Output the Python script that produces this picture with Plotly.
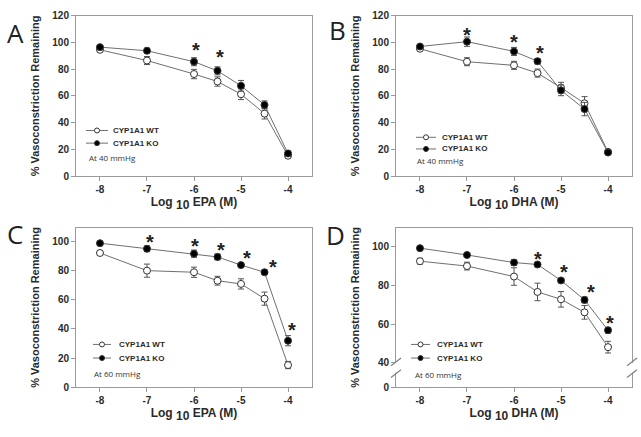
import plotly.graph_objects as go

# ---------------- data ----------------
conc = [-8, -7, -6, -5.5, -5, -4.5, -4]

A_wt = [94.5, 86.5, 76.4, 70.8, 61.3, 46.8, 15.3]
A_wt_err = [1.5, 3, 3.5, 3.5, 4, 4, 2]
A_ko = [96.5, 93.8, 85.6, 78.8, 67.6, 53.3, 17.0]
A_ko_err = [1, 2, 3, 3, 4, 3, 2]
A_star_x = [-5.95, -5.45]
A_star_y = [98, 93]

B_wt = [95.3, 85.6, 82.9, 77.1, 66.2, 54.5, 18.2]
B_wt_err = [1.5, 3, 3, 3, 4, 5, 1.5]
B_ko = [97.0, 100.6, 93.3, 86.0, 64.2, 50.2, 17.7]
B_ko_err = [1, 3.5, 3, 2, 4, 5, 1.5]
B_star_x = [-7.0, -6.0, -5.45]
B_star_y = [109, 104, 96]

C_wt = [92.0, 79.9, 78.8, 73.0, 70.8, 60.7, 15.2]
C_wt_err = [1.5, 4.5, 3.5, 3, 3.5, 4.5, 2.5]
C_ko = [98.7, 94.9, 91.5, 89.3, 83.7, 78.8, 31.9]
C_ko_err = [0.5, 2, 2.5, 2, 1, 1.5, 3.5]
C_star_x = [-6.94, -5.98, -5.42, -4.88, -4.32, -3.91]
C_star_y = [102.7, 100.4, 97.8, 92.0, 86.0, 42.9]

D_wt = [92.3, 89.8, 84.4, 76.5, 72.7, 66.0, 48.1]
D_wt_err = [1.5, 2, 4.5, 4.5, 4, 3.5, 3]
D_ko = [99.0, 95.5, 91.6, 90.6, 82.4, 72.4, 56.8]
D_ko_err = [0.5, 1, 1.5, 1, 1, 1.5, 1.5]
D_star_x = [-5.5, -4.93, -4.37, -3.95]
D_star_y = [95.8, 89.5, 79.1, 63.0]

series_names = ["CYP1A1 WT", "CYP1A1 KO"]
x_ticks = [-8, -7, -6, -5, -4]
y_ticks_AB = [0, 20, 40, 60, 80, 100, 120]
y_ticks_C = [0, 20, 40, 60, 80, 100]
y_ticks_D = [27.5, 40, 60, 80, 100]
y_ticktext_D = ["0", "40", "60", "80", "100"]
drugs = ["EPA", "DHA", "EPA", "DHA"]
pressure_notes = ["At 40 mmHg", "At 40 mmHg", "At 60 mmHg", "At 60 mmHg"]
panel_letters = ["A", "B", "C", "D"]

# ---------------- layout helpers ----------------
W, H = 641, 437
def px(v):
    return v / W
def py(v):
    return 1 - v / H

xdom = [[px(76), px(312)], [px(396), px(632)], [px(76), px(312)], [px(396), px(632)]]
ydom = [[py(175), py(10)], [py(175), py(10)], [py(392), py(228)], [py(392), py(228)]]
yranges = [[0, 120], [0, 120], [0, 109.3], [27.5, 109.5]]

panels = [
    (A_wt, A_wt_err, A_ko, A_ko_err, A_star_x, A_star_y),
    (B_wt, B_wt_err, B_ko, B_ko_err, B_star_x, B_star_y),
    (C_wt, C_wt_err, C_ko, C_ko_err, C_star_x, C_star_y),
    (D_wt, D_wt_err, D_ko, D_ko_err, D_star_x, D_star_y),
]

LINE_C = "#6f6f6f"
AX_C = "#9a9a9a"
TXT_C = "#2a2a2a"
FONT = "Liberation Sans"

# legend geometry (pixels): line x0, x1, text x, row1 y, row2 y, note x, note y
legend_geo = [
    (86, 108, 111, 128, 141, 87, 156),
    (416, 436, 440, 135, 147, 415, 159),
    (93, 111, 117, 348, 362, 92, 378),
    (411, 430, 435, 348, 362, 413, 379),
]
letter_pos = [(15, 28), (337, 25), (15, 234), (335, 235)]

fig = go.Figure()
annotations = []
shapes = []
layout = dict(
    width=W, height=H,
    margin=dict(l=0, r=0, t=0, b=0),
    paper_bgcolor="white", plot_bgcolor="white",
    showlegend=False,
)

for i, (wt, wte, ko, koe, sx, sy) in enumerate(panels):
    n = i + 1
    xa = "x" if n == 1 else f"x{n}"
    ya = "y" if n == 1 else f"y{n}"
    for name, vals, errs, fill in ((series_names[0], wt, wte, "white"),
                                   (series_names[1], ko, koe, "black")):
        fig.add_trace(go.Scatter(
            x=conc, y=vals, name=name, mode="lines+markers",
            xaxis=xa, yaxis=ya,
            line=dict(color=LINE_C, width=1),
            marker=dict(size=7, color=fill, line=dict(color="#333333", width=1)),
            error_y=dict(type="data", array=errs, visible=True,
                         color="#555555", thickness=1, width=3),
        ))
    # significance asterisks
    for xs, ys in zip(sx, sy):
        annotations.append(dict(x=xs, y=ys, xref=xa, yref=ya, text="*",
                                showarrow=False, yshift=-5,
                                font=dict(family=FONT, size=20, color="#222", weight="bold")))
    axkey_x = "xaxis" if n == 1 else f"xaxis{n}"
    axkey_y = "yaxis" if n == 1 else f"yaxis{n}"
    xtitle = ("Log <sub><span style='font-size:12px'>10</span></sub> "
              + drugs[i] + " (M)")
    layout[axkey_x] = dict(
        domain=xdom[i], anchor=ya, range=[-8.51, -3.49],
        tickvals=x_ticks, ticktext=[str(t) for t in x_ticks],
        showline=True, linecolor=AX_C, linewidth=1, mirror=True,
        ticks="outside", ticklen=4, tickcolor=AX_C,
        showgrid=False, zeroline=False,
        tickfont=dict(family=FONT, size=10, color=TXT_C, weight="bold"),
        title=dict(text=xtitle, standoff=3,
                   font=dict(family=FONT, size=12, color=TXT_C, weight="bold")),
    )
    if n in (1, 2):
        yt, ytt = y_ticks_AB, [str(t) for t in y_ticks_AB]
    elif n == 3:
        yt, ytt = y_ticks_C, [str(t) for t in y_ticks_C]
    else:
        yt, ytt = y_ticks_D, y_ticktext_D
    layout[axkey_y] = dict(
        domain=ydom[i], anchor=xa, range=yranges[i],
        tickvals=yt, ticktext=ytt,
        showline=True, linecolor=AX_C, linewidth=1, mirror=True,
        ticks="outside", ticklen=4, tickcolor=AX_C,
        showgrid=False, zeroline=False,
        tickfont=dict(family=FONT, size=10, color=TXT_C, weight="bold"),
        title=dict(text="% Vasoconstriction Remaining", standoff=10,
                   font=dict(family=FONT, size=11, color=TXT_C, weight="bold")),
    )

    # manual legend (drawn to match the compact legend of the reference)
    lx0, lx1, tx, r1, r2, nx, ny = legend_geo[i]
    for row_y, name, fill in ((r1, series_names[0], "white"), (r2, series_names[1], "black")):
        shapes.append(dict(type="line", xref="paper", yref="paper",
                           x0=px(lx0), x1=px(lx1), y0=py(row_y), y1=py(row_y),
                           line=dict(color=LINE_C, width=1)))
        shapes.append(dict(type="circle", xref="paper", yref="paper",
                           xsizemode="pixel", ysizemode="pixel",
                           xanchor=px((lx0 + lx1) / 2), yanchor=py(row_y),
                           x0=-2.5, x1=2.5, y0=-2.5, y1=2.5,
                           fillcolor=fill, line=dict(color="#333333", width=1)))
        annotations.append(dict(x=px(tx), y=py(row_y), xref="paper", yref="paper",
                                xanchor="left", yanchor="middle", text=name,
                                showarrow=False,
                                font=dict(family=FONT, size=8, color=TXT_C, weight="bold")))
    annotations.append(dict(x=px(nx), y=py(ny), xref="paper", yref="paper",
                            xanchor="left", yanchor="middle", text=pressure_notes[i],
                            showarrow=False,
                            font=dict(family="Open Sans", size=8, color="#333")))
    annotations.append(dict(x=px(letter_pos[i][0]), y=py(letter_pos[i][1]),
                            xref="paper", yref="paper",
                            xanchor="center", yanchor="middle", text=panel_letters[i],
                            showarrow=False,
                            font=dict(family="Open Sans", size=26, color="#222")))

# axis break marks on panel D (left and right frame lines), in page pixels
break_x = [396, 632]
for fx in break_x:
    shapes.append(dict(type="rect", xref="paper", yref="paper",
                       x0=px(fx - 1.5), x1=px(fx + 1.5), y0=py(377), y1=py(367),
                       fillcolor="white", line=dict(width=0), layer="above"))
for fx in break_x:
    for fy in (366, 378):
        shapes.append(dict(type="line", xref="paper", yref="paper",
                           x0=px(fx - 5), x1=px(fx + 5), y0=py(fy + 4), y1=py(fy - 4),
                           line=dict(color="#808080", width=1.2), layer="above"))

layout["annotations"] = annotations
layout["shapes"] = shapes
fig.update_layout(**layout)
# remove the browser's default 8px page margin so the figure fills the window exactly
fig.write_html("out.html",
               config={"displayModeBar": False},
               post_script="document.body.style.margin='0px';document.body.style.overflow='hidden';")
